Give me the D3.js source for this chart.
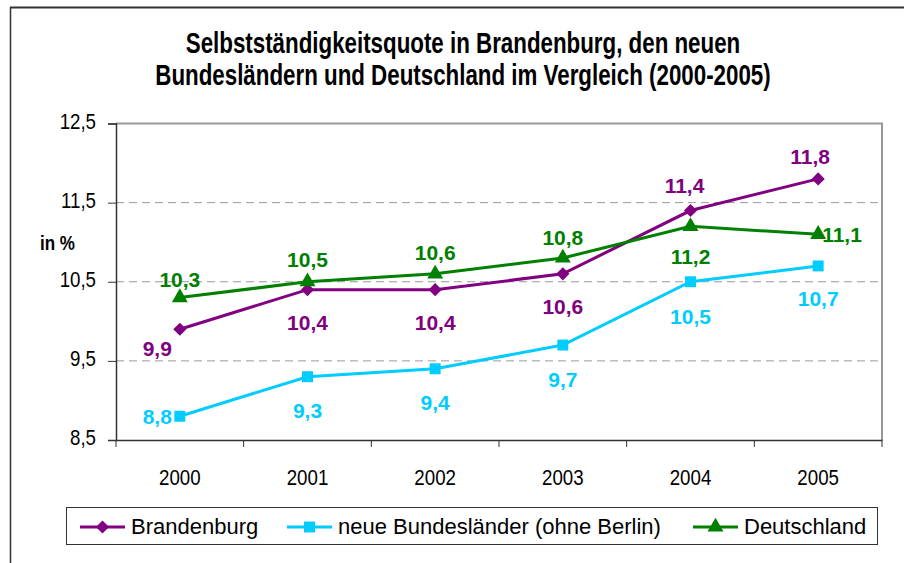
<!DOCTYPE html>
<html lang="de">
<head>
<meta charset="UTF-8">
<title>Selbstständigkeitsquote</title>
<script src="https://d3js.org/d3.v7.min.js"></script>
<style>
  body { margin: 0; background: #fff; }
  text { font-family: "Liberation Sans", Arial, sans-serif; }
</style>
</head>
<body>
<svg id="chart" width="904" height="563"></svg>
<script>
// data
const years = ["2000", "2001", "2002", "2003", "2004", "2005"];
const brandenburg = [9.9, 10.4, 10.4, 10.6, 11.4, 11.8];
const neueLaender = [8.8, 9.3, 9.4, 9.7, 10.5, 10.7];
const deutschland = [10.3, 10.5, 10.6, 10.8, 11.2, 11.1];
const yTicks = [8.5, 9.5, 10.5, 11.5, 12.5];
const seriesNames = ["Brandenburg", "neue Bundesländer (ohne Berlin)", "Deutschland"];

// label placement per point: [anchor, dx, dy]
const placeB = [["end", -8, 27], ["middle", 0, 40], ["middle", 0, 40], ["middle", 0, 40], ["middle", -6, -18], ["middle", -8, -15]];
const placeN = [["end", -8, 8], ["middle", 0, 41], ["middle", 0, 41], ["middle", 0, 42], ["middle", 0, 42], ["middle", 0, 40]];
const placeD = [["middle", 0, -11], ["middle", 0, -15], ["middle", 0, -14], ["middle", 0, -13], ["middle", 0, 38], ["start", 4, 8]];

const series = [
  { name: seriesNames[0], values: brandenburg, color: "#800080", marker: "diamond", place: placeB },
  { name: seriesNames[1], values: neueLaender, color: "#00CCFF", marker: "square", place: placeN },
  { name: seriesNames[2], values: deutschland, color: "#008000", marker: "triangle", place: placeD }
];

const svg = d3.select("#chart");

// condensed look of the original fonts
const titleSx = 0.77, axisSx = 0.85;

// outer frame (top + left only visible)
svg.append("line").attr("x1", 10).attr("x2", 904).attr("y1", 7.5).attr("y2", 7.5)
  .attr("stroke", "#333").attr("stroke-width", 2);
svg.append("line").attr("x1", 10.5).attr("x2", 10.5).attr("y1", 7).attr("y2", 563)
  .attr("stroke", "#333").attr("stroke-width", 1.5);

// title
const title = svg.append("text").attr("text-anchor", "middle")
  .attr("transform", `scale(${titleSx},1)`)
  .attr("font-weight", "bold").attr("font-size", 29).attr("fill", "#000");
title.append("tspan").attr("x", 463 / titleSx).attr("y", 53).text("Selbstständigkeitsquote in Brandenburg, den neuen");
title.append("tspan").attr("x", 463 / titleSx).attr("y", 85).text("Bundesländern und Deutschland im Vergleich (2000-2005)");

const plotL = 116, plotR = 882, plotT = 123.5, plotB = 440;

const x = d3.scaleBand().domain(years).range([plotL, plotR]);
const y = d3.scaleLinear().domain([8.5, 12.5]).range([plotB, plotT]);
const cx = d => x(d) + x.bandwidth() / 2;
const fmt = v => v.toFixed(1).replace(".", ",");

// plot border (top/right gray)
svg.append("path")
  .attr("d", `M${plotL},${plotT}H${plotR}V${plotB}`)
  .attr("fill", "none").attr("stroke", "#999").attr("stroke-width", 2);

// dashed gridlines
svg.append("g").selectAll("line")
  .data(yTicks.filter(t => t > 8.5 && t < 12.5))
  .join("line")
  .attr("x1", plotL).attr("x2", plotR)
  .attr("y1", d => y(d)).attr("y2", d => y(d))
  .attr("stroke", "#999").attr("stroke-dasharray", "8,5");

// y axis
const yAxis = svg.append("g").attr("transform", `translate(${plotL},0)`)
  .call(d3.axisLeft(y).tickValues(yTicks).tickSize(8).tickFormat(fmt));
yAxis.select(".domain").attr("stroke", "#333").attr("stroke-width", 1.5);
yAxis.selectAll(".tick line").attr("stroke", "#333");
yAxis.selectAll("text")
  .attr("font-size", 22).attr("fill", "#000")
  .attr("x", -20 / axisSx).attr("dy", "0.22em")
  .attr("transform", `scale(${axisSx},1)`);

// x axis
const xAxis = svg.append("g").attr("transform", `translate(0,${plotB})`)
  .call(d3.axisBottom(x).tickSize(0).tickPadding(29));
xAxis.select(".domain").attr("stroke", "#333").attr("stroke-width", 1.5);
xAxis.selectAll("text").attr("font-size", 22).attr("fill", "#000")
  .attr("transform", `scale(${axisSx},1)`);
xAxis.selectAll(".bound")
  .data(years.map(d => x(d)).concat([plotR]))
  .join("line").attr("class", "bound")
  .attr("x1", d => d).attr("x2", d => d).attr("y1", 0).attr("y2", 7)
  .attr("stroke", "#333");

// y axis title
svg.append("text").attr("x", 40 / 0.81).attr("y", 250)
  .attr("transform", "scale(0.81,1)")
  .attr("font-weight", "bold").attr("font-size", 21).text("in %");

const symbolFor = {
  diamond: d3.symbol().type(d3.symbolDiamond2).size(110),
  square: d3.symbol().type(d3.symbolSquare).size(120),
  triangle: d3.symbol().type(d3.symbolTriangle).size(110)
};

const line = d3.line().x((d, i) => cx(years[i])).y(d => y(d));

series.forEach(s => {
  const g = svg.append("g");
  g.append("path").datum(s.values).attr("d", line)
    .attr("fill", "none").attr("stroke", s.color).attr("stroke-width", 3);
  g.selectAll(".mk").data(s.values).join("path").attr("class", "mk")
    .attr("transform", (d, i) => `translate(${cx(years[i])},${y(d)})`)
    .attr("d", symbolFor[s.marker]()).attr("fill", s.color);
});

// data labels on top
series.forEach(s => {
  svg.append("g").selectAll("text").data(s.values).join("text")
    .attr("x", (d, i) => cx(years[i]) + s.place[i][1])
    .attr("y", (d, i) => y(d) + s.place[i][2])
    .attr("text-anchor", (d, i) => s.place[i][0])
    .attr("font-weight", "bold").attr("font-size", 21)
    .attr("fill", s.color).text(fmt);
});

// legend
svg.append("rect").attr("x", 66.5).attr("y", 507.5).attr("width", 811).attr("height", 37)
  .attr("fill", "#fff").attr("stroke", "#333").attr("stroke-width", 1);
const legendX = [80, 287, 693];
series.forEach((s, i) => {
  const g = svg.append("g").attr("transform", `translate(${legendX[i]},527)`);
  g.append("line").attr("x1", 0).attr("x2", 45).attr("stroke", s.color).attr("stroke-width", 3);
  g.append("path").attr("transform", "translate(22.5,0)")
    .attr("d", symbolFor[s.marker]()).attr("fill", s.color);
  g.append("text").attr("x", 51).attr("y", 7).attr("font-size", 22).attr("fill", "#000").text(s.name);
});
</script>
</body>
</html>
